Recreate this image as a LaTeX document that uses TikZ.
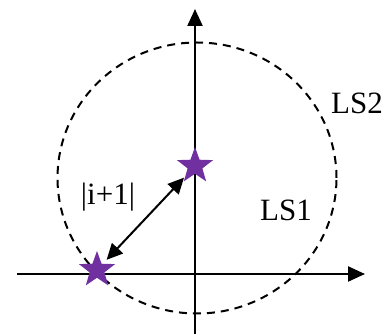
\documentclass[tikz,border=0pt]{standalone}
\usepackage{fontspec}
\setmainfont{Liberation Serif}
\usetikzlibrary{shapes.geometric,arrows.meta}
\definecolor{starpurple}{HTML}{7030A0}
\begin{document}
\begin{tikzpicture}[x=1pt,y=1pt,
  axis/.style={line width=2.2pt,-{Triangle[length=17pt,width=15pt]}},
  ring/.style={line width=2pt,dash pattern=on 8pt off 6pt},
  starnode/.style={star,star points=5,star point ratio=2.45,fill=starpurple,draw=none,minimum size=38pt,inner sep=0pt},
  lbl/.style={font=\fontsize{31}{36}\selectfont,inner sep=0pt},
  dist/.style={line width=2pt,{Triangle[length=16pt,width=15pt]}-{Triangle[length=16pt,width=15pt]}}]
\useasboundingbox (0,0) rectangle (388,334);
\coordinate (xs) at (17,60);
\coordinate (xe) at (365,60);
\coordinate (ys) at (195,0);
\coordinate (ye) at (195,325);
\draw[axis] (xs) -- (xe);
\draw[axis] (ys) -- (ye);
\draw[ring] (197,156) ellipse [x radius=139.5, y radius=135.5];
\node[starnode] (s2) at (195,168) {};
\node[starnode] (s1) at (97,64) {};
\draw[dist, shorten <=14pt, shorten >=16pt] (s1.center) -- (s2.center);
\node[lbl] (l1) at (108,137) {|i+1|};
\node[lbl] (l2) at (286,124) {LS1};
\node[lbl] (l3) at (357,231) {LS2};
\end{tikzpicture}
\end{document}
